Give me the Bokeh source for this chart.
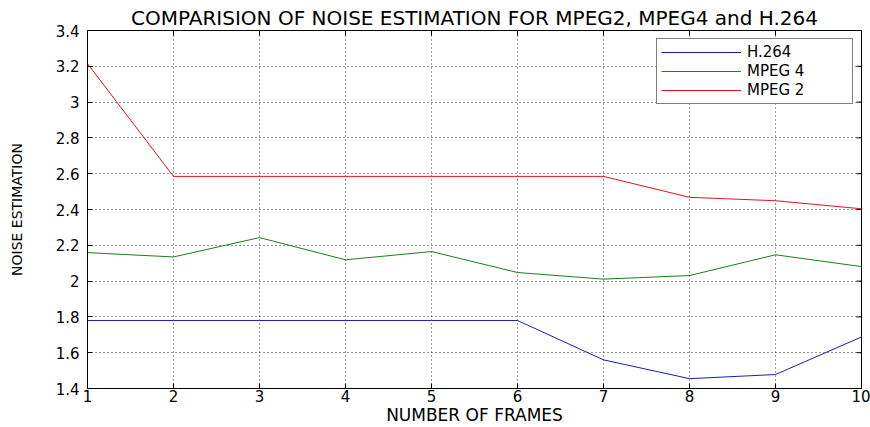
import math
from bokeh.plotting import figure
from bokeh.models import (FixedTicker, CustomJSTickFormatter, Range1d,
                          Legend, LegendItem)
from bokeh.embed import file_html
from bokeh.resources import INLINE

# ---- data ----
frames = [1, 2, 3, 4, 5, 6, 7, 8, 9, 10]
h264 = [1.78, 1.78, 1.78, 1.78, 1.78, 1.78, 1.56, 1.455, 1.478, 1.688]
mpeg4 = [2.159, 2.135, 2.243, 2.119, 2.165, 2.048, 2.011, 2.031, 2.147, 2.081]
mpeg2 = [3.215, 2.585, 2.585, 2.585, 2.585, 2.585, 2.585, 2.468, 2.449, 2.404]
y_ticks = [1.4, 1.6, 1.8, 2.0, 2.2, 2.4, 2.6, 2.8, 3.0, 3.2, 3.4]
series_names = ["H.264", "MPEG 4", "MPEG 2"]
title_text = "COMPARISION OF NOISE ESTIMATION FOR MPEG2, MPEG4 and H.264"
x_label = "NUMBER OF FRAMES"
y_label = "NOISE ESTIMATION"

FONT = "DejaVu Sans"

p = figure(width=870, height=427, output_backend="svg", toolbar_location=None,
           x_range=Range1d(frames[0], frames[-1]), y_range=Range1d(y_ticks[0], y_ticks[-1]),
           min_border_left=87, min_border_right=9, min_border_top=30,
           min_border_bottom=38)
p.background_fill_color = "white"
p.border_fill_color = "white"
p.outline_line_color = "black"
p.outline_line_width = 1

p.title.text = title_text
p.title.align = "center"
p.title.text_font = FONT
p.title.text_font_size = "20px"
p.title.text_font_style = "normal"
p.title.text_color = "black"
p.title.standoff = 2

fmt = CustomJSTickFormatter(code="return tick.toFixed(1).replace(/\\.0$/, '');")

for ax in p.xaxis:
    ax.ticker = FixedTicker(ticks=frames)
for ax in p.yaxis:
    ax.ticker = FixedTicker(ticks=y_ticks)
    ax.formatter = fmt

for ax in list(p.xaxis) + list(p.yaxis):
    ax.major_tick_in = 5
    ax.major_tick_out = 0
    ax.minor_tick_line_color = None
    ax.axis_line_color = "black"
    ax.major_tick_line_color = "black"
    ax.major_label_text_font = FONT
    ax.major_label_text_font_size = "15px"
    ax.major_label_text_color = "black"
    ax.axis_label_text_font = FONT
    ax.axis_label_text_font_style = "normal"
    ax.axis_label_text_color = "black"

p.xaxis.axis_label = x_label
p.xaxis.axis_label_text_font_size = "17px"
p.xaxis.major_label_standoff = 1
p.xaxis.axis_label_standoff = 0
p.yaxis.axis_label = y_label
p.yaxis.axis_label_text_font_size = "14px"
p.yaxis.major_label_standoff = 8
p.yaxis.axis_label_standoff = 28

for g in (p.xgrid, p.ygrid):
    g.grid_line_color = "black"
    g.grid_line_dash = "1 3"
    g.grid_line_alpha = 0.8
    g.grid_line_width = 1

# inward ticks on the right and top edges of the box
p.ray(x=[frames[-1]] * len(y_ticks), y=y_ticks, length=5, length_units="screen",
      angle=math.pi, line_color="black", line_width=1)
p.ray(x=frames, y=[y_ticks[-1]] * len(frames), length=5, length_units="screen",
      angle=-math.pi / 2, line_color="black", line_width=1)

r1 = p.line(frames, h264, line_color="#1c1cb4", line_width=1)
r2 = p.line(frames, mpeg4, line_color="#1b7f1b", line_width=1)
r3 = p.line(frames, mpeg2, line_color="#e0141e", line_width=1)

legend = Legend(items=[LegendItem(label=series_names[0], renderers=[r1]),
                       LegendItem(label=series_names[1], renderers=[r2]),
                       LegendItem(label=series_names[2], renderers=[r3])],
                location="top_right", margin=8, padding=4, spacing=1,
                glyph_width=80, glyph_height=16, label_height=16, label_width=101,
                label_standoff=6, label_text_font=FONT, label_text_font_size="15px",
                label_text_color="black",
                border_line_color="black", border_line_width=1,
                background_fill_color="white", background_fill_alpha=1)
p.add_layout(legend, "center")

open("out.html", "w").write(file_html(p, INLINE))
